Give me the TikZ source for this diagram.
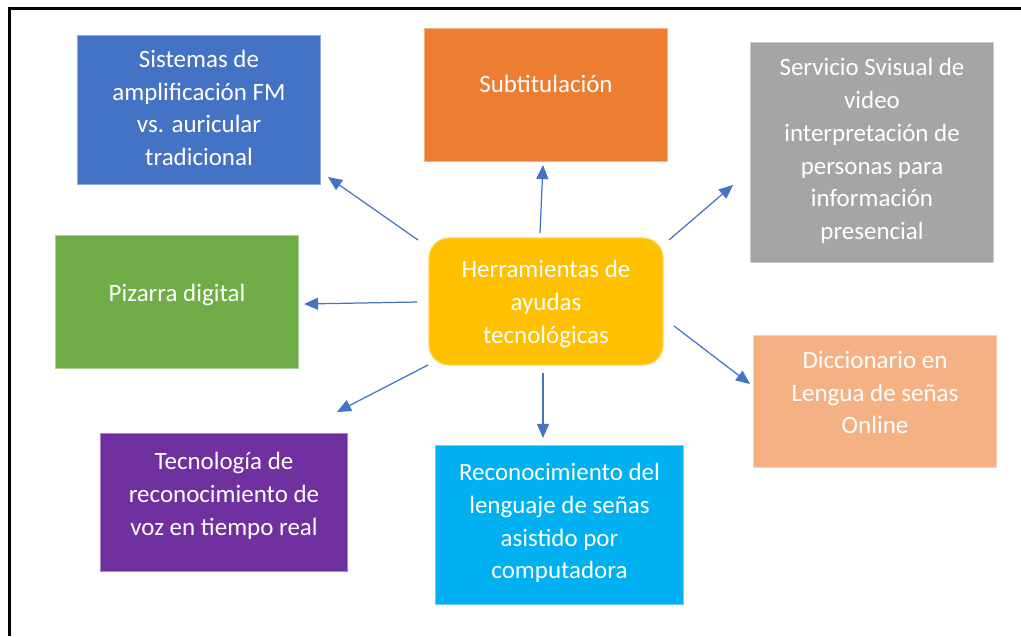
\documentclass[tikz,border=0pt]{standalone}
\usepackage{fontspec}
\setmainfont{Carlito}
\usetikzlibrary{arrows.meta}
\definecolor{cblue}{HTML}{4472C4}
\definecolor{corange}{HTML}{ED7D31}
\definecolor{cgray}{HTML}{A5A5A5}
\definecolor{cgreen}{HTML}{70AD47}
\definecolor{cyellow}{HTML}{FFC000}
\definecolor{cpeach}{HTML}{F4B183}
\definecolor{cpurple}{HTML}{7030A0}
\definecolor{ccyan}{HTML}{00B0F0}
\tikzset{
  box/.style={rectangle, inner sep=0pt, line width=0.3pt},
  txt/.style={inner sep=0pt, align=center, text=white,
    font=\fontsize{7.1pt}{9.3pt}\selectfont},
  arr/.style={draw=cblue, line width=0.35pt, -{Triangle[length=4pt,width=3.4pt]}}
}
\begin{document}
\begin{tikzpicture}[x=0.01cm,y=-0.01cm]
\useasboundingbox (0,0) rectangle (1021,636);
\draw[line width=0.7pt] (9.5,636) -- (9.5,8.5) -- (1021,8.5);
\node[box, fill=cblue, draw=cblue!60!white, minimum width=2.42cm, minimum height=1.48cm] (blue) at (199,110) {};
\node[txt] (bluet) at (199,108) {Sistemas de\\amplificación FM\\vs. auricular\\tradicional};
\node[box, fill=corange, draw=corange!60!white, minimum width=2.42cm, minimum height=1.32cm] (orange) at (546,95) {};
\node[txt] (oranget) at (546,84) {Subtitulación};
\node[box, fill=cgray, draw=cgray!60!white, minimum width=2.42cm, minimum height=2.19cm] (gray) at (872,152.5) {};
\node[txt] (grayt) at (872,151) {Servicio Svisual de\\video\\interpretación de\\personas para\\información\\presencial};
\node[box, fill=cgreen, draw=cgreen!60!white, minimum width=2.42cm, minimum height=1.32cm] (green) at (177,302) {};
\node[txt] (greent) at (177,295) {Pizarra digital};
\node[box, fill=cyellow, draw=cyellow!60!white, rounded corners=0.2cm, minimum width=2.34cm, minimum height=1.27cm] (center) at (546,301.5) {};
\node[txt] (centert) at (546,304) {Herramientas de\\ayudas\\tecnológicas};
\node[box, fill=cpeach, draw=cpeach!60!white, minimum width=2.42cm, minimum height=1.31cm] (peach) at (875,401.5) {};
\node[txt] (peacht) at (875,392.5) {Diccionario en\\Lengua de señas\\Online};
\node[box, fill=cpurple, draw=cpurple!60!white, minimum width=2.46cm, minimum height=1.37cm] (purple) at (224,502.5) {};
\node[txt] (purplet) at (224,496) {Tecnología de\\reconocimiento de\\voz en tiempo real};
\node[box, fill=ccyan, draw=ccyan!60!white, minimum width=2.47cm, minimum height=1.58cm] (cyan) at (559.5,525) {};
\node[txt] (cyant) at (559.5,523) {Reconocimiento del\\lenguaje de señas\\asistido por\\computadora};
\coordinate (s1) at (418,240); \coordinate (e1) at (328,177);
\coordinate (s2) at (540,233); \coordinate (e2) at (543,165);
\coordinate (s3) at (669,240); \coordinate (e3) at (733,185);
\coordinate (s4) at (417,302); \coordinate (e4) at (304,304);
\coordinate (s5) at (674,326); \coordinate (e5) at (750,384);
\coordinate (s6) at (428,365); \coordinate (e6) at (337,412);
\coordinate (s7) at (543,373); \coordinate (e7) at (543,438);
\draw[arr] (s1) -- (e1);
\draw[arr] (s2) -- (e2);
\draw[arr] (s3) -- (e3);
\draw[arr] (s4) -- (e4);
\draw[arr] (s5) -- (e5);
\draw[arr] (s6) -- (e6);
\draw[arr] (s7) -- (e7);
\end{tikzpicture}
\end{document}
